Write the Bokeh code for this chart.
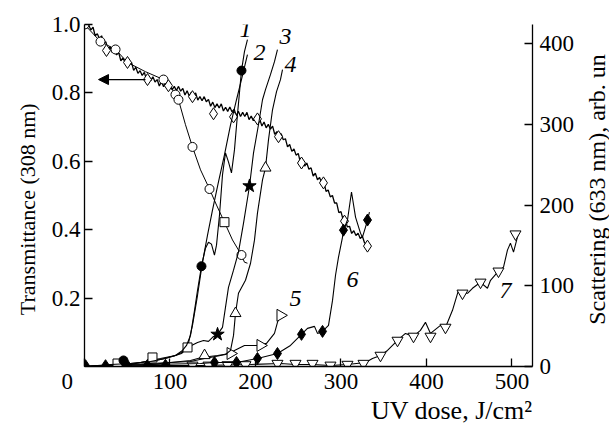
import numpy as np
from bokeh.plotting import figure
from bokeh.layouts import row
from bokeh.models import Range1d, LinearAxis, FixedTicker, Label, Arrow, NormalHead, Title
from bokeh.embed import file_html
from bokeh.resources import INLINE

# ---------------- Transmittance (left axis, 308 nm) ----------------
trans_x = [0, 2.5, 5, 7.5, 10, 12.5, 15, 17.5, 20, 22.5, 25, 27.5, 30, 32.5, 35, 37.5, 40, 42.5,
           45, 47.5, 50, 52.5, 55, 57.5, 60, 62.5, 65, 67.5, 70, 72.5, 75, 77.5, 80, 82.5, 85,
           87.5, 90, 92.5, 95, 97.5, 100, 102.5, 105, 107.5, 110, 112.5, 115, 117.5, 120, 122.5,
           125, 127.5, 130, 132.5, 135, 137.5, 140, 142.5, 145, 147.5, 150, 152.5, 155, 157.5,
           160, 162.5, 165, 167.5, 170, 172.5, 175, 177.5, 180, 182.5, 185, 187.5, 190, 192.5,
           195, 197.5, 200, 202.5, 205, 207.5, 210, 212.5, 215, 217.5, 220, 222.5, 225, 227.5,
           230, 232.5, 235, 237.5, 240, 242.5, 245, 247.5, 250, 252.5, 255, 257.5, 260, 262.5,
           265, 267.5, 270, 272.5, 275, 277.5, 280, 282.5, 285, 287.5, 290, 292.5, 295, 297.5,
           300, 302.5, 305, 307.5, 310, 312.5, 315, 317.5, 320, 322.5, 325, 327.5, 331]
trans_y = [1.000, 0.989, 0.998, 0.984, 0.992, 0.967, 0.973, 0.958, 0.967, 0.947, 0.949, 0.926,
           0.935, 0.918, 0.927, 0.911, 0.918, 0.894, 0.902, 0.889, 0.900, 0.884, 0.889, 0.866,
           0.875, 0.857, 0.865, 0.851, 0.860, 0.839, 0.849, 0.836, 0.847, 0.832, 0.839, 0.820,
           0.833, 0.818, 0.830, 0.818, 0.830, 0.809, 0.819, 0.807, 0.819, 0.805, 0.813, 0.794,
           0.806, 0.791, 0.802, 0.789, 0.800, 0.779, 0.789, 0.777, 0.789, 0.774, 0.781, 0.761,
           0.773, 0.757, 0.768, 0.756, 0.768, 0.747, 0.758, 0.746, 0.759, 0.745, 0.752, 0.733,
           0.746, 0.731, 0.743, 0.731, 0.743, 0.722, 0.732, 0.719, 0.731, 0.716, 0.723, 0.703,
           0.715, 0.698, 0.708, 0.694, 0.703, 0.679, 0.687, 0.672, 0.681, 0.663, 0.666, 0.642,
           0.649, 0.629, 0.636, 0.618, 0.623, 0.597, 0.602, 0.586, 0.595, 0.577, 0.581, 0.557,
           0.565, 0.546, 0.553, 0.535, 0.540, 0.512, 0.516, 0.496, 0.500, 0.478, 0.478, 0.450,
           0.453, 0.429, 0.428, 0.408, 0.410, 0.389, 0.397, 0.383, 0.390, 0.374, 0.381, 0.362,
           0.352]

diam_x = [25.7, 50.3, 73.7, 98.2, 126.3, 150.9, 174.3, 202.3, 226.9, 253.8, 279.5, 304.1, 331.0]
diam_y = [0.924, 0.889, 0.839, 0.821, 0.789, 0.739, 0.730, 0.724, 0.672, 0.595, 0.537, 0.425, 0.352]

circ_x = [0, 18.7, 36.3, 50.3, 71.3, 92.4, 102.9, 106.4, 109.9, 118.1, 126.3, 135.7, 146.2,
          154.4, 163.7, 173.1, 183.6, 187.1, 190.6]
circ_y = [1.0, 0.950, 0.927, 0.889, 0.862, 0.839, 0.809, 0.795, 0.780, 0.707, 0.642, 0.575,
          0.519, 0.472, 0.422, 0.370, 0.326, 0.305, 0.302]
circ_mx = [0, 18.7, 36.3, 92.4, 106.4, 109.9, 126.3, 146.2, 183.6]
circ_my = [1.0, 0.950, 0.927, 0.839, 0.795, 0.780, 0.642, 0.519, 0.326]
sq_t_x = [163.7]
sq_t_y = [0.422]

# ---------------- Scattering (right axis, 633 nm) ----------------
c1_x = [0, 30.4, 53.8, 77.2, 94.7, 106.4, 114.6, 119.3, 124.0, 128.7, 132.2, 136.8, 141.5, 145.0,
        148.5, 152.0, 154.4, 157.9, 161.4, 164.9, 168.4, 171.9, 175.4, 178.9, 183.6, 187.1, 190.6]
c1_y = [0, 2.5, 3.7, 6.2, 9.9, 13.7, 19.9, 26.1, 38.5, 69.6, 94.4, 124.2, 146.6, 154.0,
        151.6, 137.9, 150.3, 187.6, 237.3, 264.6, 253.4, 239.8, 268.3, 311.8, 366.5, 390.0, 405.0]
c1_mx = [45.6, 136.8, 183.6]
c1_my = [7.5, 124.2, 366.5]

c2_x = [0, 42.1, 65.5, 88.9, 106.4, 113.5, 120.5, 126.3, 132.2, 138.0, 143.9, 149.7, 156.7,
        163.7, 170.8, 177.8, 183.6, 190.6]
c2_y = [0, 2.5, 5.0, 8.7, 13.7, 17.4, 23.6, 50.9, 88.2, 129.2, 162.7, 193.8, 228.6, 262.1,
        299.4, 330.4, 355.3, 386.3]
c2_mx = [38.6, 79.5, 120.5]
c2_my = [3.7, 11.2, 23.6]

c3_x = [0, 53.8, 88.9, 106.4, 113.5, 120.5, 132.2, 139.2, 145.0, 150.9, 155.6, 161.4, 164.9,
        168.4, 174.3, 180.1, 186.0, 193.0, 197.7, 203.5, 208.2, 211.7, 217.5, 222.2, 225.7]
c3_y = [0, 2.5, 9.9, 13.7, 16.1, 23.6, 29.8, 32.3, 31.1, 37.3, 39.8, 48.4, 73.3, 98.1, 119.3,
        141.6, 177.6, 223.6, 264.6, 299.4, 330.4, 342.9, 361.5, 377.6, 392.5]
c3_mx = [155.6, 193.0]
c3_my = [39.8, 223.6]

c4_x = [0, 77.2, 124.0, 140.4, 153.2, 164.9, 170.8, 174.3, 176.6, 180.1, 188.3, 194.2, 198.8,
        202.3, 208.2, 211.7, 215.2, 219.9, 224.6, 229.2, 231.6]
c4_y = [0, 3.7, 6.2, 9.9, 12.4, 14.9, 19.9, 38.5, 65.8, 90.7, 106.8, 127.9, 156.5, 190.0,
        231.1, 246.0, 280.7, 318.0, 340.4, 355.3, 367.7]
c4_mx = [140.4, 176.6, 211.7]
c4_my = [13.7, 65.8, 246.0]

c5_x = [0, 77.2, 124.0, 136.8, 155.6, 169.6, 175.4, 187.1, 202.3, 212.9, 222.2, 225.7, 229.2]
c5_y = [0, 2.5, 7.5, 11.2, 13.7, 16.1, 19.9, 26.1, 26.1, 28.6, 41.0, 54.7, 63.4]
c5_mx = [170.8, 205.8, 229.2]
c5_my = [16.1, 26.1, 63.4]

c6_x = [0, 77.2, 135.7, 152.0, 177.8, 202.3, 225.7, 240.9, 253.8, 260.8, 269.0, 272.5, 278.4,
        285.4, 290.1, 293.6, 297.1, 301.8, 302.9, 307.6, 312.3, 317.0, 322.8, 325.1, 328.7,
        331.0, 333.3]
c6_y = [0, 2.5, 3.7, 5.0, 5.0, 9.9, 16.1, 26.1, 39.8, 47.2, 49.7, 41.0, 43.5, 50.9, 81.9,
        113.0, 135.4, 160.2, 168.9, 181.4, 216.1, 185.1, 165.2, 160.2, 172.7, 181.4, 191.3]
c6_mx = [1.2, 24.6, 50.3, 73.7, 94.7, 152.0, 177.8, 202.3, 225.7, 253.8, 278.4, 302.9, 331.0]
c6_my = [1.0, 1.0, 1.0, 1.5, 1.5, 5.0, 5.0, 9.9, 16.1, 39.8, 43.5, 168.9, 181.4]

c7_x = [0, 77.2, 135.7, 194.2, 229.2, 246.8, 266.7, 287.7, 307.6, 328.7, 336.8, 346.2, 354.4,
        366.1, 375.4, 384.8, 392.9, 398.8, 404.7, 416.4, 422.2, 430.4, 437.4, 442.1, 448.0,
        453.8, 463.2, 471.3, 474.9, 484.2, 490.1, 494.7, 498.2, 501.8, 507.6]
c7_y = [0, 1.2, 1.2, 2.5, 3.7, 2.5, 2.5, 1.2, 2.5, 5.0, 9.9, 13.7, 19.9, 32.3, 41.0, 37.3,
        44.7, 54.7, 41.0, 50.9, 48.4, 69.6, 94.4, 90.7, 90.7, 96.9, 104.3, 96.9, 106.8, 118.0,
        123.0, 144.1, 152.8, 141.6, 165.2]
c7_mx = [126.3, 145.0, 167.3, 188.3, 225.7, 246.8, 266.7, 287.7, 307.6, 326.3, 346.2, 366.1,
         384.8, 404.7, 422.2, 442.1, 463.2, 484.2, 504.1]
c7_my = [1.5, 1.5, 2.0, 2.0, 3.7, 3.7, 3.7, 1.5, 2.5, 3.7, 13.7, 32.3, 37.3, 37.3, 48.4, 90.7,
         104.3, 118.0, 164.0]

curve_labels = ["1", "2", "3", "4", "5", "6", "7"]
label_x = [188.3, 204.7, 235.1, 240.9, 246.8, 313.5, 492.4]
label_y = [0.985, 0.918, 0.965, 0.883, 0.199, 0.255, 0.223]

x_ticks = [0, 100, 200, 300, 400, 500]
y_left_ticks = [0.2, 0.4, 0.6, 0.8, 1.0]
y_right_ticks = [0, 100, 200, 300, 400]

FONT = "'Liberation Serif', 'Times New Roman', Times, serif"
NB = "\u00a0"
TICK_SIZE = "23px"

p = figure(width=580, height=423, output_backend="svg", toolbar_location=None,
           x_range=Range1d(0, 524), y_range=Range1d(0, 1.0),
           min_border_left=84, min_border_right=48, min_border_top=24, min_border_bottom=57)
p.extra_y_ranges = {"sc": Range1d(0, 423.6)}
p.add_layout(LinearAxis(y_range_name="sc"), "right")

p.xgrid.visible = False
p.ygrid.visible = False
p.outline_line_color = None
p.background_fill_color = "white"

for ax in p.axis:
    ax.axis_line_color = "black"
    ax.axis_line_width = 1.3
    ax.major_tick_in = 8
    ax.major_tick_out = 0
    ax.minor_tick_in = 0
    ax.minor_tick_out = 0
    ax.major_tick_line_width = 1.3
    ax.major_label_text_font = FONT
    ax.major_label_text_font_size = TICK_SIZE
    ax.major_label_text_color = "black"
    ax.axis_label_text_font = FONT
    ax.axis_label_text_font_style = "normal"
    ax.axis_label_text_color = "black"

xa = p.xaxis[0]
xa.ticker = FixedTicker(ticks=x_ticks)
xa.major_label_overrides = {0: "0" + NB * 6}
xa.major_label_standoff = 2
xa.major_label_text_line_height = 0.9

ya = p.yaxis[0]
ya.ticker = FixedTicker(ticks=y_left_ticks)
ya.major_label_overrides = {0.2: "0.2", 0.4: "0.4", 0.6: "0.6", 0.8: "0.8", 1.0: "1.0", 1: "1.0"}
ya.axis_label = "Transmittance (308 nm)" + NB * 5
ya.axis_label_text_font_size = "22px"
ya.major_label_standoff = 4
ya.axis_label_standoff = 9

yr = p.yaxis[1]
yr.ticker = FixedTicker(ticks=y_right_ticks)
yr.major_label_standoff = 7

p.add_layout(Title(text="UV dose, J/cm²", align="right", text_font=FONT,
                   text_font_size="26px", text_font_style="normal", text_color="black",
                   text_line_height=0.85, standoff=-6, offset=0), "below")

# transmittance curves
p.line(trans_x, trans_y, line_color="black", line_width=1.3)
p.line(circ_x, circ_y, line_color="black", line_width=1)
p.scatter(circ_mx, circ_my, marker="circle", size=9, fill_color="white", line_color="black", line_width=1)
p.scatter(diam_x, diam_y, marker="diamond", size=12, fill_color="white", line_color="black", line_width=1)
p.scatter(sq_t_x, sq_t_y, marker="square", size=9, fill_color="white", line_color="black", line_width=1)

# scattering curves
lw = 1.1
p.line(c7_x, c7_y, y_range_name="sc", line_color="black", line_width=lw)
p.scatter(c7_mx, c7_my, y_range_name="sc", marker="inverted_triangle", size=11,
          fill_color="white", line_color="black", line_width=1)
p.line(c6_x, c6_y, y_range_name="sc", line_color="black", line_width=lw)
p.scatter(c6_mx, c6_my, y_range_name="sc", marker="diamond", size=12,
          fill_color="black", line_color="black", line_width=1)
p.line(c5_x, c5_y, y_range_name="sc", line_color="black", line_width=lw)
p.scatter(c5_mx, c5_my, y_range_name="sc", marker="triangle", angle=-np.pi / 2, size=12,
          fill_color="white", line_color="black", line_width=1)
p.line(c4_x, c4_y, y_range_name="sc", line_color="black", line_width=lw)
p.scatter(c4_mx, c4_my, y_range_name="sc", marker="triangle", size=11,
          fill_color="white", line_color="black", line_width=1)
p.line(c3_x, c3_y, y_range_name="sc", line_color="black", line_width=lw)
p.scatter(c3_mx, c3_my, y_range_name="sc", marker="star", size=14,
          fill_color="black", line_color="black", line_width=1)
p.line(c2_x, c2_y, y_range_name="sc", line_color="black", line_width=lw)
p.scatter(c2_mx, c2_my, y_range_name="sc", marker="square", size=9,
          fill_color="white", line_color="black", line_width=1)
p.line(c1_x, c1_y, y_range_name="sc", line_color="black", line_width=lw)
p.scatter(c1_mx, c1_my, y_range_name="sc", marker="circle", size=9,
          fill_color="black", line_color="black", line_width=1)

# arrow pointing to the left axis
p.add_layout(Arrow(end=NormalHead(size=10, fill_color="black", line_color="black"),
                   x_start=71.3, y_start=0.839, x_end=16.4, y_end=0.839,
                   line_color="black", line_width=1.2))

for t, lx, ly in zip(curve_labels, label_x, label_y):
    p.add_layout(Label(x=lx, y=ly, text=t, text_font=FONT, text_font_size="24px",
                       text_font_style="italic", text_align="center", text_baseline="middle",
                       text_color="black"))

# slim strip carrying the right-hand axis title, read bottom-to-top
p2 = figure(width=29, height=423, output_backend="svg", toolbar_location=None,
            x_axis_location=None, x_range=Range1d(0, 1), y_range=Range1d(0, 423.6),
            min_border_left=0, min_border_right=0, min_border_top=24, min_border_bottom=57)
p2.xgrid.visible = False
p2.ygrid.visible = False
p2.outline_line_color = None
a2 = p2.yaxis[0]
a2.ticker = FixedTicker(ticks=[])
a2.axis_line_color = None
a2.major_tick_line_color = None
a2.minor_tick_line_color = None
a2.axis_label = NB * 2 + "Scattering (633 nm), arb. un"
a2.axis_label_text_font = FONT
a2.axis_label_text_font_size = "24px"
a2.axis_label_text_font_style = "normal"
a2.axis_label_text_color = "black"
a2.axis_label_standoff = 0

layout = row(p, p2, spacing=0)
open("out.html", "w").write(file_html(layout, INLINE))
